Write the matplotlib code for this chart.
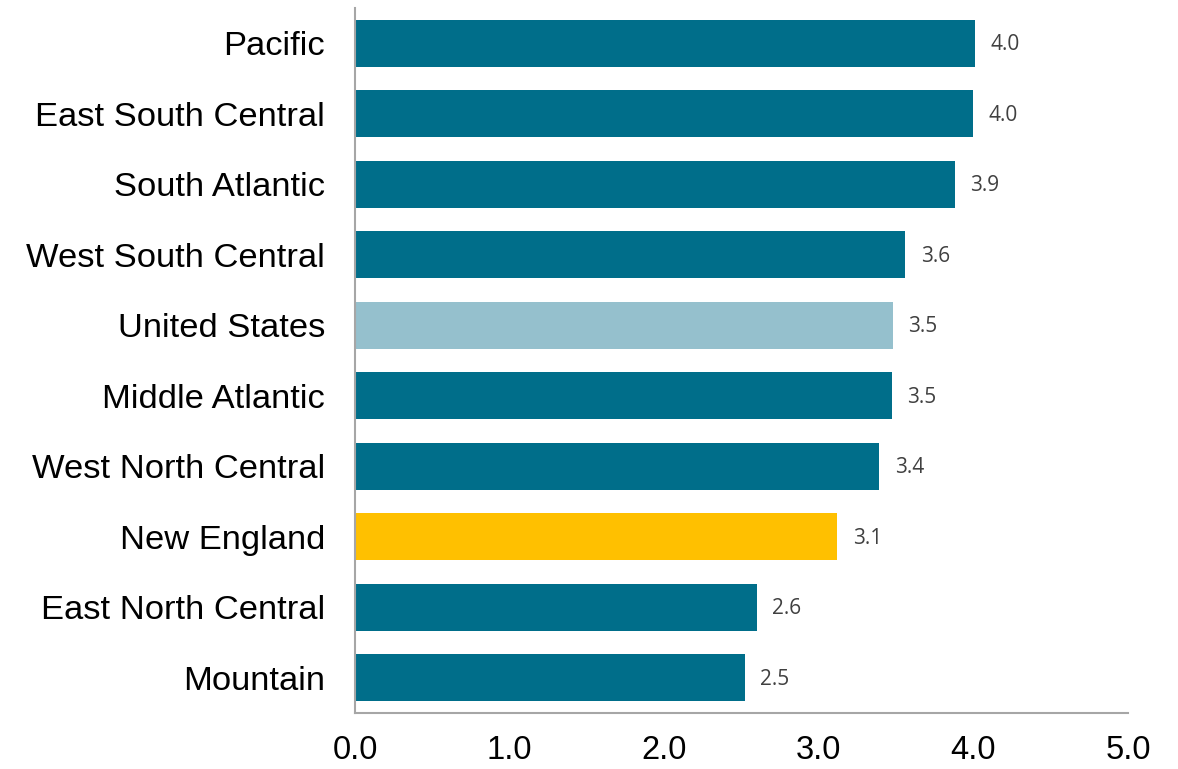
import matplotlib
matplotlib.use("Agg")
import matplotlib.pyplot as plt

regions = ["Pacific", "East South Central", "South Atlantic", "West South Central",
           "United States", "Middle Atlantic", "West North Central", "New England",
           "East North Central", "Mountain"]
values = [4.01, 4.00, 3.88, 3.56, 3.48, 3.47, 3.39, 3.12, 2.60, 2.52]
xticks = [0.0, 1.0, 2.0, 3.0, 4.0, 5.0]

teal = "#006E8A"
highlight = {"United States": "#95C0CD", "New England": "#FFC000"}
colors = [highlight.get(r, teal) for r in regions]

fig = plt.figure(figsize=(11.78, 7.69), dpi=100)
ax = fig.add_axes([0.3014, 0.0728, 0.6562, 0.9168])

ypos = list(range(len(regions)))
ax.barh(ypos, values, height=0.67, color=colors)

for y, v in zip(ypos, values):
    ax.text(v + 0.1, y + 0.02, f"{v:.1f}", va="center", ha="left",
            fontsize=15, color="#404040", family=["Open Sans", "DejaVu Sans"])

ax.set_xlim(0, 5)
ax.set_ylim(len(regions) - 0.5, -0.5)
ax.set_yticks(ypos)
ax.set_yticklabels(regions, fontsize=24.8, family=["Liberation Sans", "DejaVu Sans"])
ax.set_xticks(xticks)
ax.set_xticklabels([f"{t:.1f}" for t in xticks], fontsize=23.5,
                   family=["Liberation Sans Narrow", "Liberation Sans", "DejaVu Sans"])
ax.tick_params(axis="y", length=0, pad=21.5)
ax.tick_params(axis="x", length=0, pad=16)

for side in ["top", "right"]:
    ax.spines[side].set_visible(False)
for side in ["left", "bottom"]:
    ax.spines[side].set_color("#A6A6A6")
    ax.spines[side].set_linewidth(1.5)

fig.savefig("out.png", dpi=100)
